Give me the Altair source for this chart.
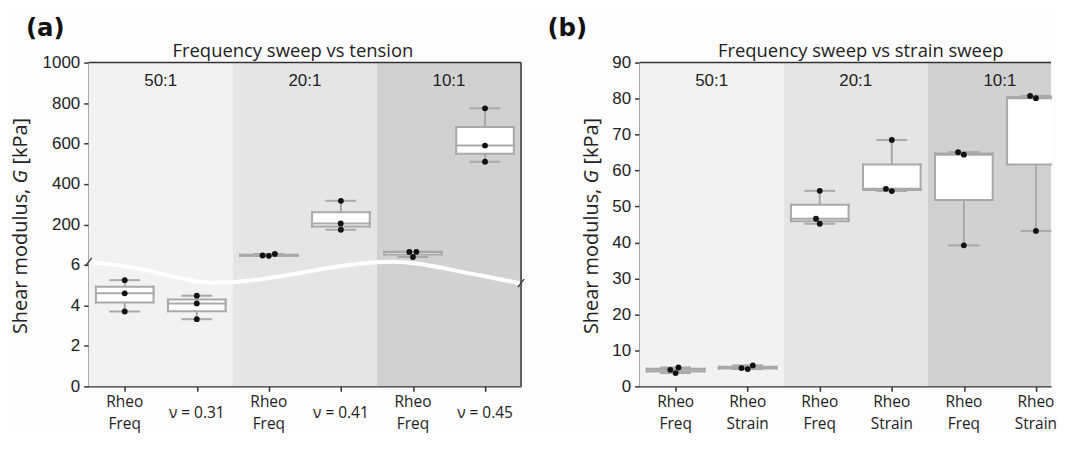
import altair as alt
import pandas as pd

# ---------------- data ----------------
GROUPS = ["50:1", "20:1", "10:1"]
GROUP_COLORS = ["#f2f2f2", "#e5e5e5", "#d1d1d1"]

A_TITLE = "Frequency sweep vs tension"
A_LABELS = ["Rheo\nFreq", "ν = 0.31", "Rheo\nFreq", "ν = 0.41", "Rheo\nFreq", "ν = 0.45"]
A_VALUES = [
    [5.25, 4.60, 3.70],
    [4.48, 4.10, 3.32],
    [54.35, 46.6, 45.2],
    [317, 205, 174],
    [65.1, 64.4, 39.2],
    [774, 590, 510],
]
A_TICKS = [0, 2, 4, 6, 200, 400, 600, 800, 1000]

B_TITLE = "Frequency sweep vs strain sweep"
B_LABELS = ["Rheo\nFreq", "Rheo\nStrain", "Rheo\nFreq", "Rheo\nStrain", "Rheo\nFreq", "Rheo\nStrain"]
B_VALUES = [
    [5.25, 4.60, 3.70],
    [5.83, 5.09, 4.81],
    [54.35, 46.6, 45.2],
    [68.5, 54.9, 54.3],
    [65.1, 64.4, 39.2],
    [80.75, 80.1, 43.2],
]
B_TICKS = [0, 10, 20, 30, 40, 50, 60, 70, 80, 90]

# broken axis of panel (a): 0-6 kPa below, 0-1000 kPa above (100 kPa per lower unit)
BREAK = 6
UPPER = 100
WAVE_X = [-0.5, 0.1, 1.24, 3.73, 4.85, 5.5]
WAVE_Y = [6.155, 5.88, 5.12, 6.155, 5.54, 5.08]
BRK_Y_LEFT = [5.95, 6.35]
BRK_Y_RIGHT = [4.9, 5.3]

Y_TITLE = ["Shear modulus,", "G", "[kPa]"]

H = 325
PX_X = 434 / 6.0          # pixels per category
W_A = 434
W_B = 413                 # panel (b) is cut at the right edge, as in the figure
BOX_GRAY = "#a9a9a9"
AX = "#333333"
TXT = "#222222"
LFS = 15.5                # x label font size
LLH = 21.5                # x label line height
LTOP = 9                  # x label distance below the axis


def tf_a(v):
    return v if v <= BREAK else BREAK + v / UPPER


TF_A_EXPR = f"datum.value <= {BREAK} ? datum.value : {BREAK} + datum.value / {UPPER}"


def swarm_offsets(ts, px_per_unit, d=6.3):
    ys = [t * px_per_unit for t in ts]
    order = sorted(range(len(ys)), key=lambda k: ys[k])
    placed = []
    offs = [0.0] * len(ys)
    for k in order:
        y = ys[k]
        cands = [0.0]
        for py, px in placed:
            dy = abs(y - py)
            if dy < d:
                dx = (d * d - dy * dy) ** 0.5
                cands += [px - dx, px + dx]
        cands.sort(key=lambda c: (abs(c), c))
        chosen = cands[-1]
        for c in cands:
            if all((c - px) ** 2 + (y - py) ** 2 >= d * d - 1e-6 for py, px in placed):
                chosen = c
                break
        placed.append((y, chosen))
        offs[k] = chosen
    return offs


def panel(labels, values, tf_py, tf_expr, y_dom, y_ticks, y_label_expr,
          title, letter, title_x, letter_x, ytitle_x, broken, width):
    rows = []
    for i, vals in enumerate(values):
        ts = [tf_py(v) for v in vals]
        offs = swarm_offsets(ts, H / (y_dom[1] - y_dom[0]))
        for v, o in zip(vals, offs):
            rows.append({"idx": i, "value": v, "off": o / PX_X})
    df = pd.DataFrame(rows)

    parts = [l.split("\n") for l in labels]
    lbl2 = pd.DataFrame({
        "idx": [i for i, p in enumerate(parts) if len(p) > 1],
        "l1": [p[0] for p in parts if len(p) > 1],
        "l2": [p[1] for p in parts if len(p) > 1],
    })
    lbl1 = pd.DataFrame({
        "idx": [i for i, p in enumerate(parts) if len(p) == 1],
        "l": [p[0] for p in parts if len(p) == 1],
    })

    bg = pd.DataFrame({
        "group": GROUPS,
        "start": [2 * i - 0.5 for i in range(3)],
        "end": [2 * i + 1.5 for i in range(3)],
    })
    bg["mid"] = (bg["start"] + bg["end"]) / 2

    dmax = -0.5 + width / PX_X
    xs = alt.Scale(domain=[-0.5, dmax], nice=False, zero=False, clamp=True)
    ys = alt.Scale(domain=y_dom, nice=False, zero=False)

    xa = alt.Axis(
        values=list(range(6)), labels=False, tickSize=5, tickWidth=1.5,
        tickColor=AX, domainColor=AX, domainWidth=1.5, grid=False, title=None,
    )
    ya = alt.Axis(
        values=[tf_py(v) for v in y_ticks], labelExpr=y_label_expr,
        labelFont="Liberation Sans", labelFontSize=17, labelColor=TXT,
        labelPadding=4, labelOverlap=False, labelFlush=False, tickSize=5, tickWidth=1.5,
        tickColor=AX, domainColor=AX, domainWidth=1.5, grid=False, title=None,
    )

    def X(f):
        return alt.X(f, scale=xs, axis=xa)

    def Y(f):
        return alt.Y(f, scale=ys, axis=ya)

    background = alt.Chart(bg).mark_rect().encode(
        x=X("start:Q"),
        x2="end:Q",
        y=alt.value(0),
        y2=alt.value(H),
        fill=alt.Fill("group:N", scale=alt.Scale(domain=GROUPS, range=GROUP_COLORS), legend=None),
    )
    group_text = alt.Chart(bg).mark_text(
        font="Liberation Sans", fontSize=17, color=TXT, baseline="alphabetic"
    ).encode(x=X("mid:Q"), y=alt.value(23), text="group:N")

    lab_kw = dict(align="center", baseline="top", font="Open Sans", fontSize=LFS, color=TXT)
    lab_a = alt.Chart(lbl2).mark_text(**lab_kw).encode(
        x=X("idx:Q"), y=alt.value(H + LTOP), text="l1:N")
    lab_b = alt.Chart(lbl2).mark_text(**lab_kw).encode(
        x=X("idx:Q"), y=alt.value(H + LTOP + LLH), text="l2:N")
    lab_c = alt.Chart(lbl1).mark_text(**lab_kw).encode(
        x=X("idx:Q"), y=alt.value(H + LTOP + LLH / 2), text="l:N")

    pts = alt.Chart(df).transform_calculate(t=tf_expr, xp="datum.idx + datum.off")
    agg = pts.transform_aggregate(
        q1="q1(t)", q3="q3(t)", med="median(t)", lo="min(t)", hi="max(t)", groupby=["idx"]
    ).transform_calculate(
        xl="datum.idx - 0.4", xr="datum.idx + 0.4", cl="datum.idx - 0.2", cr="datum.idx + 0.2"
    )
    rule_kw = dict(color=BOX_GRAY, strokeWidth=2, strokeCap="square")
    whisk_lo = agg.mark_rule(**rule_kw).encode(x=X("idx:Q"), y=Y("lo:Q"), y2="q1:Q")
    whisk_hi = agg.mark_rule(**rule_kw).encode(x=X("idx:Q"), y=Y("q3:Q"), y2="hi:Q")
    cap_lo = agg.mark_rule(**rule_kw).encode(x=X("cl:Q"), x2="cr:Q", y=Y("lo:Q"))
    cap_hi = agg.mark_rule(**rule_kw).encode(x=X("cl:Q"), x2="cr:Q", y=Y("hi:Q"))
    box_fill = agg.mark_rect(fill="white", strokeWidth=0).encode(
        x=X("xl:Q"), x2="xr:Q", y=Y("q1:Q"), y2="q3:Q")
    edge_b = agg.mark_rule(**rule_kw).encode(x=X("xl:Q"), x2="xr:Q", y=Y("q1:Q"))
    edge_t = agg.mark_rule(**rule_kw).encode(x=X("xl:Q"), x2="xr:Q", y=Y("q3:Q"))
    edge_l = agg.mark_rule(**rule_kw).encode(x=X("xl:Q"), y=Y("q1:Q"), y2="q3:Q")
    edge_r = agg.transform_filter(f"datum.xr <= {dmax}").mark_rule(**rule_kw).encode(
        x=X("xr:Q"), y=Y("q1:Q"), y2="q3:Q")
    med = agg.mark_rule(**rule_kw).encode(x=X("xl:Q"), x2="xr:Q", y=Y("med:Q"))
    points = pts.mark_circle(size=34, color="#111111", opacity=1).encode(
        x=X("xp:Q"), y=Y("t:Q"))

    one = pd.DataFrame({"k": [0]})
    base_t = alt.Chart(one)
    frame = [base_t.mark_rule(color=AX, strokeWidth=1.5).encode(
        x=alt.value(0), x2=alt.value(width), y=alt.value(0))]
    if broken:
        frame.append(base_t.mark_rule(color=AX, strokeWidth=1.5).encode(
            x=alt.value(width), y=alt.value(0), y2=alt.value(H)))

    fs = 20
    bottom = H / 2 + 1.5 + 10.88 * fs / 2
    g0 = bottom - 7.57 * fs
    gw = 0.70 * fs
    sp = 0.26 * fs
    yt_kw = dict(angle=270, baseline="middle", font="Open Sans", fontSize=fs, color=TXT)
    yt1 = base_t.mark_text(align="right", text=Y_TITLE[0], **yt_kw).encode(
        x=alt.value(ytitle_x), y=alt.value(g0 + sp))
    yt2 = base_t.mark_text(align="left", fontStyle="italic", text=Y_TITLE[1], **yt_kw).encode(
        x=alt.value(ytitle_x), y=alt.value(g0))
    yt3 = base_t.mark_text(align="left", text=Y_TITLE[2], **yt_kw).encode(
        x=alt.value(ytitle_x), y=alt.value(g0 - gw - sp))
    ttl = base_t.mark_text(align="center", baseline="alphabetic", font="Open Sans",
                           fontSize=18.5, color=TXT, text=title).encode(
        x=alt.value(title_x), y=alt.value(-6))
    let = base_t.mark_text(align="left", baseline="alphabetic", font="DejaVu Sans",
                           fontSize=24.5, fontWeight="bold", color="#111111", text=letter).encode(
        x=alt.value(letter_x), y=alt.value(-27))

    layers = [background, group_text]
    if broken:
        wave = alt.Chart(pd.DataFrame({"wx": WAVE_X, "wy": WAVE_Y})).mark_line(
            color="white", strokeWidth=4, interpolate="monotone"
        ).encode(x=X("wx:Q"), y=Y("wy:Q"))
        brk_l = alt.Chart(pd.DataFrame({"y1": [BRK_Y_LEFT[0]], "y2": [BRK_Y_LEFT[1]]})).mark_rule(
            color=AX, strokeWidth=1.3).encode(
            x=alt.value(-3), x2=alt.value(3), y=Y("y1:Q"), y2="y2:Q")
        brk_r = alt.Chart(pd.DataFrame({"y1": [BRK_Y_RIGHT[0]], "y2": [BRK_Y_RIGHT[1]]})).mark_rule(
            color=AX, strokeWidth=1.3).encode(
            x=alt.value(width - 3), x2=alt.value(width + 3), y=Y("y1:Q"), y2="y2:Q")
        layers += [wave, brk_l, brk_r]
    layers += [whisk_lo, whisk_hi, cap_lo, cap_hi, box_fill, edge_b, edge_t, edge_l, edge_r,
               med, points, lab_a, lab_b, lab_c]
    layers += frame + [yt1, yt2, yt3, ttl, let]
    return alt.layer(*layers).properties(width=width, height=H)


a_label_expr = (f"datum.value <= {BREAK} ? datum.label : "
                f"format((datum.value - {BREAK}) * {UPPER}, 'd')")
chart_a = panel(A_LABELS, A_VALUES, tf_a, TF_A_EXPR, [0, tf_a(1000)], A_TICKS, a_label_expr,
                A_TITLE, "(a)", 205, -63, -68, True, W_A)
chart_b = panel(B_LABELS, B_VALUES, lambda v: v, "datum.value", [0, 90], B_TICKS, "datum.label",
                B_TITLE, "(b)", 222, -92.5, -47.5, False, W_B)

chart = alt.hconcat(chart_a, chart_b, spacing=18).properties(
    padding={"left": 2, "top": 7, "right": 0, "bottom": 0}
).configure(background="#fdfdfd").configure_view(stroke=None)

chart.save("out.html", embed_options={"renderer": "svg", "actions": False})
